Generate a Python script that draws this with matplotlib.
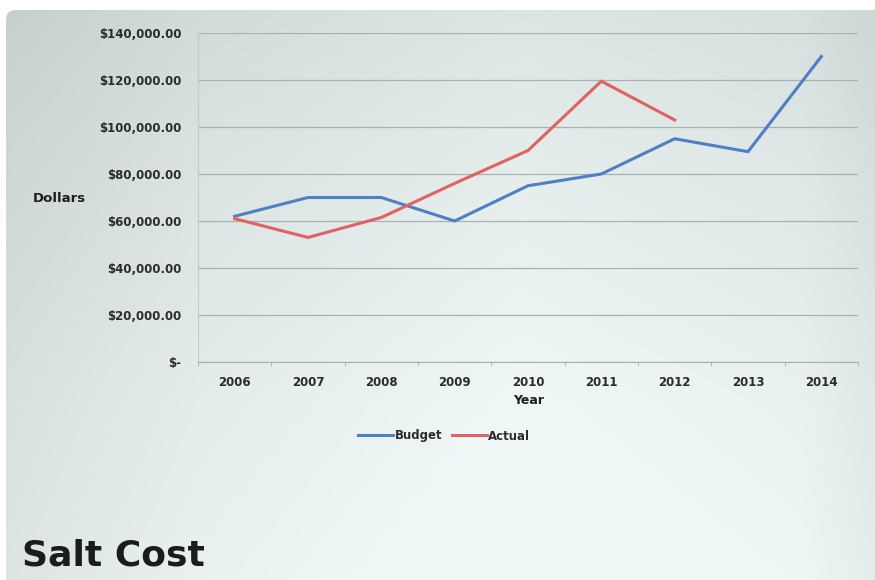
from matplotlib import pyplot as plt
from matplotlib.patches import FancyBboxPatch
from matplotlib.ticker import FuncFormatter, MultipleLocator
import numpy as np

years = ['2006', '2007', '2008', '2009', '2010', '2011', '2012', '2013', '2014']
budget = [62000, 70000, 70000, 60000, 75000, 80000, 95000, 89500, 130000]
actual = [61000, 53000, 61500, 76000, 90000, 119500, 103000]

W, H = 875, 580
fig = plt.figure(figsize=(W / 100, H / 100), dpi=100)
fig.patch.set_facecolor('white')

# panel background: soft grey-to-cyan gradient inside a rounded box
bg = fig.add_axes([0, 0, 1, 1], zorder=-10)
bg.set_xlim(0, W)
bg.set_ylim(H, 0)
bg.axis('off')
gx = np.interp(np.arange(W), [0, 200, 520, 800, W], [0, 0.55, 1.0, 0.75, 0.35])
gy = np.interp(np.arange(H), [0, 150, 400, H], [0, 0.35, 0.8, 1.0])
grey = np.array([0.77, 0.81, 0.80])
light = np.array([0.94, 0.97, 0.97])
mix = np.clip(0.55 * gx[None, :] + 0.55 * gy[:, None], 0, 1)[..., None]
img = grey + (light - grey) * mix
box = FancyBboxPatch((6, 10), W + 20, H + 20, boxstyle='round,pad=0,rounding_size=10',
                     transform=bg.transData, facecolor='none', edgecolor='none')
bg.add_patch(box)
im = bg.imshow(img, extent=(0, W, H, 0), aspect='auto', interpolation='bilinear')
im.set_clip_path(box)

ax = fig.add_axes([198 / W, 1 - 362 / H, 660 / W, (362 - 33) / H])
ax.patch.set_alpha(0)

x = np.arange(len(years))
ax.plot(x, budget, color='#4f7fc4', lw=2.2, label='Budget', solid_joinstyle='miter')
ax.plot(x[:len(actual)], actual, color='#e06262', lw=2.2, label='Actual', solid_joinstyle='miter')

ax.set_xlim(-0.5, len(years) - 0.5)
ax.set_ylim(0, 140000)
ax.yaxis.set_major_locator(MultipleLocator(20000))
ax.yaxis.set_major_formatter(FuncFormatter(lambda v, p: '$-' if v == 0 else f'${v:,.2f}'))
ax.grid(axis='y', color='#a9b2b2', lw=0.9)
ax.set_axisbelow(True)

ax.set_xticks(x)
ax.set_xticklabels(years)
ax.set_xticks(np.arange(-0.5, len(years)), minor=True)
ax.tick_params(axis='x', which='major', length=0, pad=10)
ax.tick_params(axis='x', which='minor', length=3, color='#a8b0b0')
ax.tick_params(axis='y', length=0, pad=12)
for lbl in ax.get_xticklabels() + ax.get_yticklabels():
    lbl.set_fontsize(8.5)
    lbl.set_fontweight('bold')
    lbl.set_color('#2b2b2b')

for side in ['top', 'right']:
    ax.spines[side].set_visible(False)
ax.spines['left'].set_color('#c2caca')
ax.spines['bottom'].set_color('#a8b0b0')

fig.text(59 / W, 1 - 198 / H, 'Dollars', fontsize=9.5, fontweight='bold',
         color='#1e1e1e', ha='center', va='center')
fig.text(529 / W, 1 - 400 / H, 'Year', fontsize=9, fontweight='bold',
         color='#1e1e1e', ha='center', va='center')

leg = fig.legend(loc='center', bbox_to_anchor=(444 / W, 1 - 436 / H), ncol=2, frameon=False,
                 handlelength=3.0, handletextpad=0.1, columnspacing=0.8,
                 prop={'size': 8.5, 'weight': 'bold'})
for t in leg.get_texts():
    t.set_color('#2b2b2b')

fig.text(22 / W, 1 - 566 / H, 'Salt Cost', fontsize=26, fontweight='bold',
         color='#1c1c1c', ha='left', va='baseline')

fig.savefig('out.png', dpi=100)
